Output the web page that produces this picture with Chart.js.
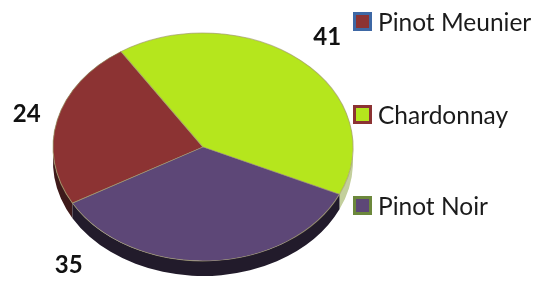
<!DOCTYPE html>
<html>
<head>
<meta charset="utf-8">
<script src="https://cdn.jsdelivr.net/npm/chart.js@4.4.1/dist/chart.umd.min.js"></script>
<style>
  html, body { margin: 0; padding: 0; background: #fff; }
</style>
</head>
<body>
<canvas id="chart" width="534" height="282"></canvas>
<script>
// --- данные ---
const varieties = ["Pinot Meunier", "Chardonnay", "Pinot Noir"];
const shares = [24, 41, 35];
const sliceColors = ["#8c3333", "#b5e61d", "#5d4777"];
const sideColors = ["#3e1a1a", "#c3cf9c", "#221b2b"];
const legendEdges = ["#3e68a5", "#8c3333", "#6c883c"];

// геометрия наклонённого диска (экранные пиксели)
const disc = { cx: 203, cy: 147, rx: 150, ry: 114, depth: 15 };

// Сплющиваем круг в эллипс и рисуем боковую стенку под ним
const pie3d = {
  id: "pie3d",
  beforeDatasetsDraw(chart) {
    const arcs = chart.getDatasetMeta(0).data;
    if (!arcs.length) return;
    const { x, y, outerRadius: r } = arcs[0];
    const ctx = chart.ctx;
    ctx.save();
    ctx.translate(disc.cx, disc.cy);
    ctx.scale(disc.rx / r, disc.ry / r);
    ctx.translate(-x, -y);
    const dl = disc.depth * r / disc.ry;
    arcs.forEach((a, i) => {
      ctx.beginPath();
      ctx.arc(x, y, r, a.startAngle, a.endAngle);
      ctx.arc(x, y + dl, r, a.endAngle, a.startAngle, true);
      ctx.closePath();
      ctx.fillStyle = sideColors[i];
      ctx.fill();
    });
  },
  afterDatasetsDraw(chart) {
    chart.ctx.restore();
  },
};

// Подписи значений снаружи диска
const sliceLabels = {
  id: "sliceLabels",
  afterDraw(chart, args, opts) {
    const ctx = chart.ctx;
    const arcs = chart.getDatasetMeta(0).data;
    ctx.save();
    ctx.font = "bold 24px Lato";
    ctx.fillStyle = "#111";
    ctx.textAlign = "center";
    ctx.textBaseline = "middle";
    arcs.forEach((a, i) => {
      const spot = opts.spots[i];
      const ang = spot.angle != null ? spot.angle * Math.PI / 180 : (a.startAngle + a.endAngle) / 2;
      const px = disc.cx + disc.rx * spot.f * Math.cos(ang);
      const py = disc.cy + disc.ry * spot.f * Math.sin(ang);
      ctx.fillText(String(chart.data.datasets[0].data[i]), px, py);
    });
    ctx.restore();
  },
};

// Легенда справа с большими промежутками
const sideLegend = {
  id: "sideLegend",
  afterDraw(chart, args, opts) {
    const ctx = chart.ctx;
    ctx.save();
    ctx.font = "24.5px Lato";
    ctx.textAlign = "left";
    ctx.textBaseline = "alphabetic";
    chart.data.labels.forEach((label, i) => {
      const base = opts.baselines[i];
      const s = opts.box;
      const top = base - s;
      ctx.fillStyle = sliceColors[i];
      ctx.fillRect(opts.x, top, s, s);
      ctx.lineWidth = 3;
      ctx.strokeStyle = legendEdges[i];
      ctx.strokeRect(opts.x + 1.5, top + 1.5, s - 3, s - 3);
      ctx.fillStyle = "#1b1b1b";
      ctx.fillText(label, opts.x + s + 6, base);
    });
    ctx.restore();
  },
};

new Chart(document.getElementById("chart"), {
  type: "pie",
  data: {
    labels: varieties,
    datasets: [{
      data: shares,
      backgroundColor: sliceColors,
      borderColor: "rgba(165,160,110,0.7)",
      borderWidth: 1,
      clip: false,
    }],
  },
  options: {
    responsive: false,
    animation: false,
    rotation: 240.5,
    layout: { padding: 0 },
    plugins: {
      legend: { display: false },
      tooltip: { enabled: false },
      sliceLabels: { spots: [{ f: 1.21 }, { f: 1.27 }, { angle: 130.8, f: 1.37 }] },
      sideLegend: { x: 353, box: 19, baselines: [31, 124, 215] },
    },
  },
  plugins: [pie3d, sliceLabels, sideLegend],
});
</script>
</body>
</html>
